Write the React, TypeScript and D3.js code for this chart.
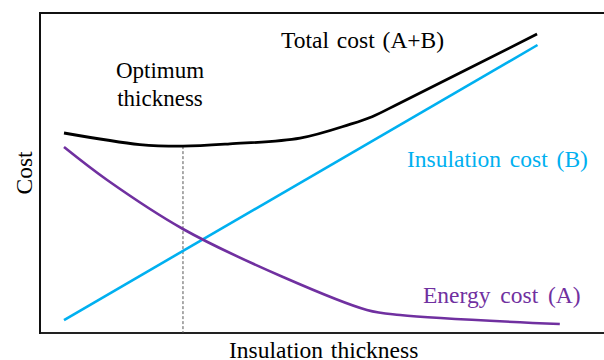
import React from "react";
import * as d3 from "d3";

const totalX = [0, 1.6, 2.51, 3.5, 4.98, 6.03, 6.5, 7.09, 9.98];
const totalY = [62.5, 58.9, 58.4, 59.1, 60.9, 65.2, 67.6, 71.9, 93.4];
const energyX = [0, 0.91, 2.51, 4.62, 6.39, 7.09, 10.46];
const energyY = [58.1, 47.8, 32.5, 17.5, 7.2, 5.6, 2.8];
const insulX = [0, 9.99];
const insulY = [4.06, 90];
const optimumX = 2.51;
const optimumY = 58.4;

const W = 604;
const H = 360;

export default function App() {
  const x = d3.scaleLinear().domain([0, 10]).range([64, 538]);
  const y = d3.scaleLinear().domain([0, 100]).range([333, 13]);
  const line = d3
    .line<[number, number]>()
    .x((d) => x(d[0]))
    .y((d) => y(d[1]))
    .curve(d3.curveCatmullRom.alpha(0.5));
  const zip = (a: number[], b: number[]) => a.map((v, i) => [v, b[i]] as [number, number]);
  const font = "'Liberation Serif', 'Times New Roman', serif";
  const x0 = 40;
  const yTop = y(100);
  const yBot = y(0);
  return (
    <svg
      width={W}
      height={H}
      style={{ position: "absolute", left: 0, top: 0, background: "#fff" }}
      fontFamily={font}
    >
      <line x1={x0} x2={W} y1={yTop} y2={yTop} stroke="#111" strokeWidth={2} />
      <line x1={x0} x2={W} y1={yBot} y2={yBot} stroke="#222" strokeWidth={2.2} />
      <line x1={x0} x2={x0} y1={yTop - 1} y2={yBot + 1} stroke="#111" strokeWidth={2} />
      <line
        x1={x(optimumX)}
        x2={x(optimumX)}
        y1={y(optimumY)}
        y2={yBot}
        stroke="#555"
        strokeWidth={1}
        strokeDasharray="3,2"
      />
      <path d={line(zip(insulX, insulY)) || ""} fill="none" stroke="#00B0F0" strokeWidth={2.6} />
      <path d={line(zip(energyX, energyY)) || ""} fill="none" stroke="#7030A0" strokeWidth={2.6} />
      <path d={line(zip(totalX, totalY)) || ""} fill="none" stroke="#000" strokeWidth={2.8} />
      <text x={160} y={78} fontSize={23} textAnchor="middle" fill="#000">Optimum</text>
      <text x={160} y={106} fontSize={23} textAnchor="middle" fill="#000">thickness</text>
      <text x={281} y={48} fontSize={23.5} fill="#000" style={{ wordSpacing: "2px" }}>Total cost (A+B)</text>
      <text x={407} y={167} fontSize={23.5} fill="#00B0F0" style={{ wordSpacing: "3px" }}>Insulation cost (B)</text>
      <text x={423} y={303} fontSize={23.5} fill="#7030A0" style={{ wordSpacing: "4px" }}>Energy cost (A)</text>
      <text x={229} y={358} fontSize={23.5} fill="#000" style={{ wordSpacing: "2px" }}>Insulation thickness</text>
      <text
        transform={`translate(32,${(yTop + yBot) / 2}) rotate(-90)`}
        fontSize={23.5}
        textAnchor="middle"
        fill="#000"
      >
        Cost
      </text>
    </svg>
  );
}
